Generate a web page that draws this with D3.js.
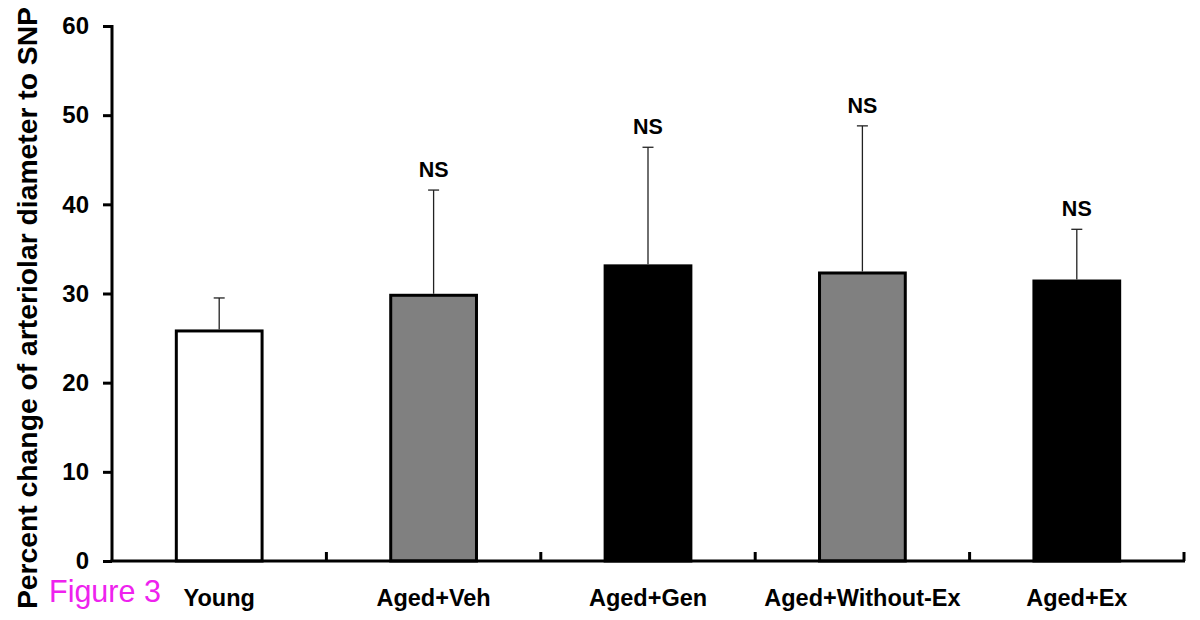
<!DOCTYPE html>
<html><head><meta charset="utf-8">
<script src="https://cdn.jsdelivr.net/npm/d3@7"></script>
<style>body{margin:0;background:#fff}svg{display:block}</style>
</head><body>
<svg id="c" width="1200" height="620"></svg>
<script>
const categories = ["Young", "Aged+Veh", "Aged+Gen", "Aged+Without-Ex", "Aged+Ex"];
const means = [25.8, 29.8, 33.1, 32.3, 31.4];
const errTop = [29.5, 41.6, 46.4, 48.8, 37.2];
const fills = ["#ffffff", "#808080", "#000000", "#808080", "#000000"];
const sigLabels = ["", "NS", "NS", "NS", "NS"];
const yTicks = [0, 10, 20, 30, 40, 50, 60];

const svg = d3.select("#c");
const x0 = 112, x1 = 1184, yBase = 561, yTop = 26;
const x = d3.scaleBand().domain(categories).range([x0, x1]).paddingInner(0.6).paddingOuter(0.3);
const y = d3.scaleLinear().domain([0, 60]).range([yBase, yTop]);
const font = "'Liberation Sans', Arial, sans-serif";

// bars
svg.selectAll("rect.bar").data(categories).enter().append("rect")
  .attr("x", d => x(d)).attr("width", x.bandwidth())
  .attr("y", (d, i) => y(means[i])).attr("height", (d, i) => yBase - y(means[i]))
  .attr("fill", (d, i) => fills[i]).attr("stroke", "#000").attr("stroke-width", 3);

// error bars
const eb = svg.append("g").attr("stroke", "#222").attr("stroke-width", 1.3);
categories.forEach((c, i) => {
  const cx = x(c) + x.bandwidth() / 2;
  eb.append("line").attr("x1", cx).attr("x2", cx).attr("y1", y(means[i]) - 1.5).attr("y2", y(errTop[i]));
  eb.append("line").attr("x1", cx - 5.5).attr("x2", cx + 5.5).attr("y1", y(errTop[i])).attr("y2", y(errTop[i]));
  if (sigLabels[i]) {
    svg.append("text").attr("x", cx).attr("y", y(errTop[i]) - 13)
      .attr("text-anchor", "middle").attr("font-family", font).attr("font-weight", "bold")
      .attr("font-size", 21.5).text(sigLabels[i]);
  }
});

// y axis
const yAxis = d3.axisLeft(y).tickValues(yTicks).tickSize(9).tickPadding(14).tickSizeOuter(0);
const gy = svg.append("g").attr("transform", `translate(${x0},0)`).call(yAxis);
gy.select(".domain").attr("stroke", "#000").attr("stroke-width", 3).attr("d", `M0,${yTop - 1}V${yBase}`);
gy.selectAll(".tick line").attr("stroke", "#000").attr("stroke-width", 3);
gy.selectAll(".tick text").attr("font-family", font).attr("font-weight", "bold").attr("font-size", 24).attr("fill", "#000");

// x axis baseline
svg.append("line").attr("x1", x0 - 1.5).attr("x2", x1 + 1).attr("y1", yBase).attr("y2", yBase)
  .attr("stroke", "#000").attr("stroke-width", 3);
// category separator ticks (inward)
const step = x.step();
const seps = d3.range(1, categories.length + 1).map(k => x0 + k * step);
svg.selectAll("line.sep").data(seps).enter().append("line")
  .attr("x1", d => d).attr("x2", d => d).attr("y1", yBase).attr("y2", yBase - 9)
  .attr("stroke", "#000").attr("stroke-width", 3);

// category labels
svg.selectAll("text.cat").data(categories).enter().append("text")
  .attr("x", d => x(d) + x.bandwidth() / 2).attr("y", 606)
  .attr("text-anchor", "middle").attr("font-family", font).attr("font-weight", "bold")
  .attr("font-size", 23.5).text(d => d);

// y title
svg.append("text").attr("transform", "translate(37,308) rotate(-90)")
  .attr("text-anchor", "middle").attr("font-family", font).attr("font-weight", "bold")
  .attr("font-size", 27).attr("textLength", 602).attr("lengthAdjust", "spacingAndGlyphs")
  .text("Percent change of arteriolar diameter to SNP");

// figure label
svg.append("text").attr("x", 49).attr("y", 602).attr("font-family", font)
  .attr("font-size", 30.5).attr("fill", "#ee22ee").text("Figure 3");
</script>
</body></html>
